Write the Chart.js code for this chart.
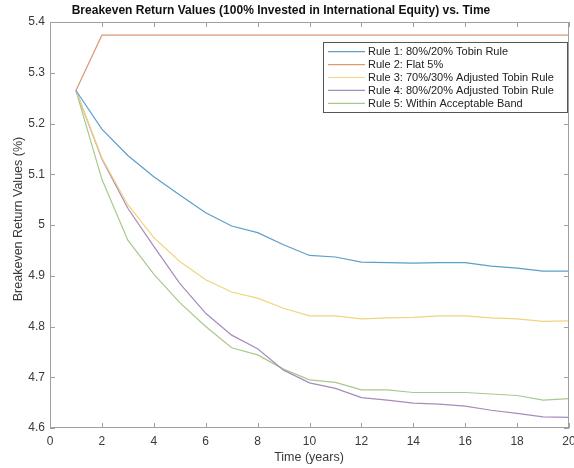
<!DOCTYPE html>
<html>
<head>
<meta charset="utf-8">
<script src="https://cdn.jsdelivr.net/npm/chart.js@4.4.1/dist/chart.umd.min.js"></script>
<style>
html,body{margin:0;padding:0;background:#fff;}
#wrap{width:574px;height:468px;position:relative;}
</style>
</head>
<body>
<div id="wrap"><canvas id="c" width="574" height="468"></canvas></div>
<script>
const years = [1,2,3,4,5,6,7,8,9,10,11,12,13,14,15,16,17,18,19,20];
const seriesNames = [
  "Rule 1: 80%/20% Tobin Rule",
  "Rule 2: Flat 5%",
  "Rule 3: 70%/30% Adjusted Tobin Rule",
  "Rule 4: 80%/20% Adjusted Tobin Rule",
  "Rule 5: Within Acceptable Band"
];
const rule1 = [5.265,5.189,5.137,5.095,5.059,5.024,4.998,4.985,4.961,4.940,4.937,4.927,4.926,4.925,4.926,4.926,4.919,4.915,4.909,4.909];
const rule2 = [5.265,5.374,5.374,5.374,5.374,5.374,5.374,5.374,5.374,5.374,5.374,5.374,5.374,5.374,5.374,5.374,5.374,5.374,5.374,5.374];
const rule3 = [5.265,5.132,5.040,4.975,4.928,4.892,4.868,4.856,4.836,4.821,4.821,4.815,4.817,4.818,4.821,4.821,4.817,4.815,4.810,4.811];
const rule4 = [5.265,5.130,5.033,4.958,4.885,4.826,4.783,4.756,4.714,4.689,4.678,4.660,4.655,4.649,4.647,4.643,4.635,4.629,4.622,4.621];
const rule5 = [5.265,5.090,4.970,4.903,4.847,4.800,4.758,4.744,4.716,4.695,4.690,4.675,4.675,4.670,4.670,4.670,4.667,4.664,4.655,4.658];
const xTicks = [0,2,4,6,8,10,12,14,16,18,20];
const yTicks = [4.6,4.7,4.8,4.9,5.0,5.1,5.2,5.3,5.4];
const titleText = "Breakeven Return Values (100% Invested in International Equity) vs. Time";
const xTitle = "Time (years)";
const yTitle = "Breakeven Return Values (%)";

const colors = ["#5b9fca","#d99a72","#f0d47e","#a78bbb","#a9c98c"];
const allSeries = [rule1,rule2,rule3,rule4,rule5];
const FONT = "'Liberation Sans', Arial, Helvetica, sans-serif";

const datasets = allSeries.map((s,i)=>({
  label: seriesNames[i],
  data: years.map((x,j)=>({x:x,y:s[j]})),
  borderColor: colors[i],
  backgroundColor: colors[i],
  borderWidth: 1.2,
  pointRadius: 0,
  tension: 0,
  fill: false
}));

const decor = {
  id:'decor',
  afterDraw(chart){
    const ctx = chart.ctx;
    const ca = chart.chartArea;
    const xs = chart.scales.x, ys = chart.scales.y;
    ctx.save();
    ctx.strokeStyle = "#a0a0a0";
    ctx.lineWidth = 1;
    ctx.strokeRect(Math.round(ca.left)+0.5, Math.round(ca.top)+0.5, Math.round(ca.right-ca.left)-1, Math.round(ca.bottom-ca.top)-1);
    ctx.beginPath();
    xTicks.forEach(v=>{
      const px = Math.round(xs.getPixelForValue(v))+0.5;
      ctx.moveTo(px, ca.bottom); ctx.lineTo(px, ca.bottom-5);
      ctx.moveTo(px, ca.top); ctx.lineTo(px, ca.top+5);
    });
    yTicks.forEach(v=>{
      const py = Math.round(ys.getPixelForValue(v))+0.5;
      ctx.moveTo(ca.left, py); ctx.lineTo(ca.left+5, py);
      ctx.moveTo(ca.right, py); ctx.lineTo(ca.right-5, py);
    });
    ctx.stroke();
    ctx.fillStyle = "#111";
    ctx.font = "bold 12px " + FONT;
    ctx.textAlign = "center"; ctx.textBaseline = "middle";
    ctx.fillText(titleText, 281, 11);
    ctx.fillStyle = "#3a3a3a";
    ctx.font = "12.5px " + FONT;
    ctx.fillText(xTitle, 309, 458);
    ctx.save();
    ctx.translate(19, 219);
    ctx.rotate(-Math.PI/2);
    ctx.fillText(yTitle, 0, 0);
    ctx.restore();
    const lx = 323.5, ly = 42.5, lw = 244, lh = 70;
    ctx.fillStyle = "#fff";
    ctx.fillRect(lx, ly, lw, lh);
    ctx.strokeStyle = "#555";
    ctx.strokeRect(lx, ly, lw, lh);
    ctx.font = "11px " + FONT;
    ctx.textAlign = "left";
    ctx.textBaseline = "middle";
    seriesNames.forEach((name,i)=>{
      const yy = 51.7 + i*12.9;
      ctx.strokeStyle = colors[i];
      ctx.lineWidth = 1.2;
      ctx.beginPath();
      ctx.moveTo(328, yy); ctx.lineTo(365, yy);
      ctx.stroke();
      ctx.fillStyle = "#222";
      ctx.fillText(name, 368, yy+0.5);
    });
    ctx.restore();
  }
};

new Chart(document.getElementById('c'), {
  type: 'line',
  data: { datasets: datasets },
  options: {
    responsive: false,
    animation: false,
    devicePixelRatio: 1,
    layout: { padding: { left: 0, right: 5, top: 22, bottom: 0 } },
    plugins: { legend: { display: false }, title: { display: false }, tooltip: { enabled: false } },
    scales: {
      x: {
        type: 'linear', min: 0, max: 20,
        afterBuildTicks(s){ s.ticks = xTicks.map(v=>({value:v})); },
        afterFit(s){ s.height = 40; s.paddingLeft = 0; s.paddingRight = 0; },
        grid: { display: false, drawTicks: false },
        border: { display: false },
        ticks: { padding: 6, color: "#3a3a3a", font: { size: 12, family: FONT }, maxRotation: 0, autoSkip: false,
          callback: v => String(v) }
      },
      y: {
        type: 'linear', min: 4.6, max: 5.4,
        afterBuildTicks(s){ s.ticks = yTicks.map(v=>({value:v})); },
        afterFit(s){ s.width = 50; s.paddingTop = 0; s.paddingBottom = 0; },
        grid: { display: false, drawTicks: false },
        border: { display: false },
        ticks: { padding: 5, color: "#3a3a3a", font: { size: 12, family: FONT }, autoSkip: false,
          callback: v => String(Math.round(v*10)/10) }
      }
    }
  },
  plugins: [decor]
});
</script>
</body>
</html>
